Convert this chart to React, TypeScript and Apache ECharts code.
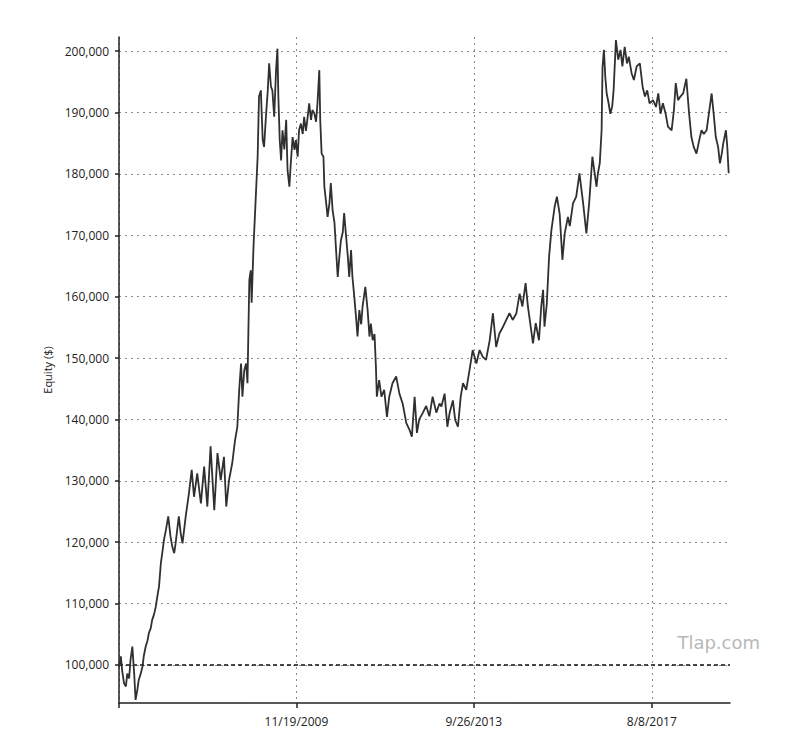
import React, { useEffect, useRef } from "react";
import * as echarts from "echarts";

// x positions as decimal years, equity in thousands of dollars
const years: number[] = [
  2006.03, 2006.07, 2006.10, 2006.14, 2006.18, 2006.21, 2006.25, 2006.28, 2006.32, 2006.36,
  2006.39, 2006.43, 2006.46, 2006.50, 2006.54, 2006.57, 2006.61, 2006.65, 2006.68, 2006.72,
  2006.75, 2006.79, 2006.83, 2006.86, 2006.90, 2006.94, 2006.97, 2007.01, 2007.05, 2007.10,
  2007.15, 2007.19, 2007.23, 2007.26, 2007.33, 2007.37, 2007.41, 2007.48, 2007.55, 2007.61,
  2007.66, 2007.73, 2007.81, 2007.88, 2007.95, 2008.02, 2008.10, 2008.17, 2008.24, 2008.31,
  2008.36, 2008.42, 2008.49, 2008.55, 2008.60, 2008.64, 2008.68, 2008.71, 2008.75, 2008.79,
  2008.82, 2008.84, 2008.86, 2008.89, 2008.91, 2008.95, 2009.00, 2009.04, 2009.07, 2009.11,
  2009.15, 2009.18, 2009.22, 2009.26, 2009.29, 2009.33, 2009.36, 2009.40, 2009.44, 2009.47,
  2009.49, 2009.52, 2009.55, 2009.58, 2009.62, 2009.66, 2009.69, 2009.73, 2009.76, 2009.80,
  2009.84, 2009.87, 2009.91, 2009.94, 2009.98, 2010.02, 2010.05, 2010.09, 2010.12, 2010.16,
  2010.20, 2010.23, 2010.27, 2010.31, 2010.34, 2010.38, 2010.40, 2010.43, 2010.47, 2010.49,
  2010.53, 2010.56, 2010.60, 2010.63, 2010.67, 2010.71, 2010.74, 2010.78, 2010.81, 2010.85,
  2010.89, 2010.92, 2010.96, 2011.00, 2011.03, 2011.07, 2011.10, 2011.14, 2011.18, 2011.21,
  2011.25, 2011.29, 2011.32, 2011.38, 2011.43, 2011.47, 2011.50, 2011.54, 2011.58, 2011.61,
  2011.63, 2011.68, 2011.73, 2011.79, 2011.85, 2011.90, 2011.97, 2012.05, 2012.12, 2012.19,
  2012.27, 2012.34, 2012.39, 2012.45, 2012.50, 2012.55, 2012.63, 2012.70, 2012.77, 2012.84,
  2012.92, 2012.99, 2013.03, 2013.10, 2013.16, 2013.21, 2013.28, 2013.33, 2013.39, 2013.45,
  2013.50, 2013.57, 2013.64, 2013.71, 2013.79, 2013.86, 2013.93, 2014.00, 2014.08, 2014.15,
  2014.22, 2014.29, 2014.37, 2014.44, 2014.51, 2014.58, 2014.66, 2014.73, 2014.79, 2014.86,
  2014.91, 2014.98, 2015.02, 2015.08, 2015.15, 2015.20, 2015.24, 2015.27, 2015.32, 2015.37,
  2015.42, 2015.49, 2015.54, 2015.60, 2015.66, 2015.71, 2015.78, 2015.82, 2015.89, 2015.96,
  2016.03, 2016.11, 2016.18, 2016.24, 2016.31, 2016.36, 2016.40, 2016.43, 2016.47, 2016.51,
  2016.53, 2016.56, 2016.59, 2016.62, 2016.65, 2016.70, 2016.74, 2016.77, 2016.82, 2016.87,
  2016.92, 2016.96, 2017.01, 2017.06, 2017.10, 2017.16, 2017.21, 2017.27, 2017.34, 2017.40,
  2017.45, 2017.50, 2017.55, 2017.63, 2017.69, 2017.74, 2017.79, 2017.84, 2017.90, 2017.95,
  2018.03, 2018.08, 2018.12, 2018.17, 2018.22, 2018.28, 2018.35, 2018.41, 2018.46, 2018.51,
  2018.57, 2018.63, 2018.68, 2018.73, 2018.79, 2018.85, 2018.90, 2018.95, 2018.99, 2019.04,
  2019.08, 2019.12, 2019.15, 2019.21, 2019.24, 2019.27,
];

const equityK: number[] = [
  99.7, 101.4, 99.0, 97.0, 96.5, 98.6, 97.8, 100.8, 103.0, 98.6,
  94.3, 96.0, 97.6, 98.5, 99.7, 101.5, 103.0, 104.0, 105.2, 106.0,
  107.3, 108.2, 109.5, 111.0, 112.8, 116.6, 118.2, 120.5, 122.0, 124.2,
  120.9, 119.2, 118.2, 119.8, 124.2, 121.5, 119.8, 124.2, 128.0, 131.8,
  127.4, 131.2, 126.3, 132.3, 125.8, 135.6, 125.2, 134.5, 130.1, 133.9,
  125.8, 130.1, 132.9, 136.6, 138.8, 144.8, 149.1, 143.7, 148.0, 149.1,
  145.9, 154.6, 162.7, 164.3, 159.0, 168.1, 176.3, 182.8, 192.6, 193.6,
  185.5, 184.4, 189.3, 193.6, 198.0, 194.2, 193.6, 189.3, 196.9, 200.4,
  192.6, 185.5, 182.2, 187.1, 184.0, 188.8, 180.6, 177.9, 181.7, 186.0,
  183.9, 185.5, 182.8, 187.1, 188.2, 186.5, 189.3, 187.0, 188.8, 191.5,
  188.8, 190.4, 189.9, 188.5, 191.5, 196.9, 188.8, 183.3, 182.8, 177.9,
  175.2, 173.0, 175.2, 178.5, 174.0, 172.0, 168.1, 163.2, 166.0, 169.2,
  170.5, 173.6, 170.0, 166.5, 163.2, 167.6, 163.2, 160.0, 156.5, 153.5,
  157.8, 155.5, 158.4, 161.6, 157.8, 153.5, 155.6, 152.9, 153.9, 148.6,
  143.7, 146.4, 143.7, 144.8, 140.4, 143.7, 145.9, 147.0, 144.2, 142.6,
  139.4, 138.3, 137.2, 143.7, 137.8, 140.0, 141.1, 142.2, 140.5, 143.7,
  141.1, 142.6, 142.1, 144.2, 138.8, 141.1, 143.1, 139.9, 138.8, 143.7,
  145.9, 144.8, 148.0, 151.3, 149.1, 151.3, 150.2, 149.7, 152.9, 157.3,
  151.8, 154.0, 155.1, 156.2, 157.3, 156.2, 157.3, 160.5, 158.4, 162.2,
  158.4, 154.6, 152.4, 155.7, 152.9, 158.4, 161.1, 155.1, 158.8, 166.5,
  170.8, 174.6, 176.3, 173.5, 166.0, 170.3, 173.0, 171.5, 175.2, 176.3,
  180.1, 175.2, 170.3, 175.2, 182.8, 180.1, 177.9, 180.1, 181.7, 187.1,
  197.4, 200.2, 195.8, 193.1, 192.0, 189.8, 191.0, 193.6, 201.8, 198.6,
  200.2, 197.5, 200.7, 198.0, 199.1, 196.4, 195.3, 197.5, 198.0, 194.2,
  192.6, 193.6, 191.5, 192.0, 190.9, 193.1, 189.8, 191.5, 189.8, 187.7,
  187.1, 190.4, 194.8, 192.0, 192.6, 193.1, 195.5, 189.8, 186.0, 184.4,
  183.3, 185.5, 187.1, 186.5, 187.1, 190.4, 193.1, 189.3, 186.0, 184.4,
  181.7, 183.3, 184.9, 187.1, 184.4, 180.1,
];

const xTickDates: string[] = ["2009-11-19", "2013-09-26", "2017-08-08"];
const xStartDate = "2006-01-12";
const xEndDate = "2019-04-20";
const yTicks: number[] = [100000, 110000, 120000, 130000, 140000, 150000, 160000, 170000, 180000, 190000, 200000];
const baseline = 100000;

function parseDate(s: string): number {
  const [y, m, d] = s.split("-").map(Number);
  return Date.UTC(y, m - 1, d);
}
function yearToTs(yr: number): number {
  const y = Math.floor(yr);
  const start = Date.UTC(y, 0, 1);
  const end = Date.UTC(y + 1, 0, 1);
  return start + (yr - y) * (end - start);
}
function fmtDate(ts: number): string {
  const d = new Date(ts);
  return `${d.getUTCMonth() + 1}/${d.getUTCDate()}/${d.getUTCFullYear()}`;
}

export default function App() {
  const ref = useRef<HTMLDivElement>(null);
  useEffect(() => {
    if (!ref.current) return;
    const chart = echarts.init(ref.current, undefined, { renderer: "svg" });
    const xMin = parseDate(xStartDate);
    const xMax = parseDate(xEndDate);
    const tickTs = xTickDates.map(parseDate);
    const data = years.map((yr, i) => [yearToTs(yr), equityK[i] * 1000]);
    const font = "'Open Sans', 'DejaVu Sans', sans-serif";
    chart.setOption({
      animation: false,
      backgroundColor: "#ffffff",
      grid: { left: 119, right: 72, top: 37, bottom: 47, containLabel: false },
      xAxis: {
        type: "value",
        min: xMin,
        max: xMax,
        axisLine: { show: true, lineStyle: { color: "#222", width: 1.5 } },
        axisTick: {
          show: true,
          length: 5,
          inside: false,
          customValues: [xMin, ...tickTs],
          lineStyle: { color: "#222", width: 1.5 },
        },
        axisLabel: {
          customValues: tickTs,
          formatter: (v: number) => fmtDate(v),
          color: "#222",
          fontSize: 12,
          fontFamily: font,
          margin: 12,
        },
        splitLine: { show: true, lineStyle: { color: "#8a8a8a", type: [2, 4], width: 1 } },
      },
      yAxis: {
        type: "value",
        min: 93800,
        max: 202300,
        name: "Equity ($)",
        nameLocation: "middle",
        nameGap: 66,
        nameTextStyle: { color: "#222", fontSize: 11, fontFamily: font },
        axisLine: { show: true, lineStyle: { color: "#222", width: 1.5 } },
        axisTick: {
          show: true,
          length: 4,
          customValues: yTicks,
          lineStyle: { color: "#222", width: 1.5 },
        },
        axisLabel: {
          customValues: yTicks,
          formatter: (v: number) => v.toLocaleString("en-US"),
          color: "#222",
          fontSize: 12,
          fontFamily: font,
          margin: 10,
        },
        splitLine: { show: true, lineStyle: { color: "#8a8a8a", type: [2, 4], width: 1 } },
      },
      graphic: [
        {
          type: "text",
          right: 42,
          top: 633,
          style: {
            text: "Tlap.com",
            fill: "#b8b8b8",
            font: "18px 'DejaVu Sans', sans-serif",
          },
          z: 10,
        },
      ],
      series: [
        {
          type: "line",
          data,
          showSymbol: false,
          symbol: "none",
          lineStyle: { color: "#303030", width: 1.8 },
          z: 5,
          markLine: {
            silent: true,
            symbol: ["none", "none"],
            label: { show: false },
            lineStyle: { color: "#111", type: [4, 3], width: 1.6 },
            data: [{ yAxis: baseline }],
          },
        },
      ],
    });
    return () => chart.dispose();
  }, []);
  return (
    <div
      ref={ref}
      style={{ position: "fixed", left: 0, top: 0, width: 802, height: 750, background: "#fff" }}
    />
  );
}
